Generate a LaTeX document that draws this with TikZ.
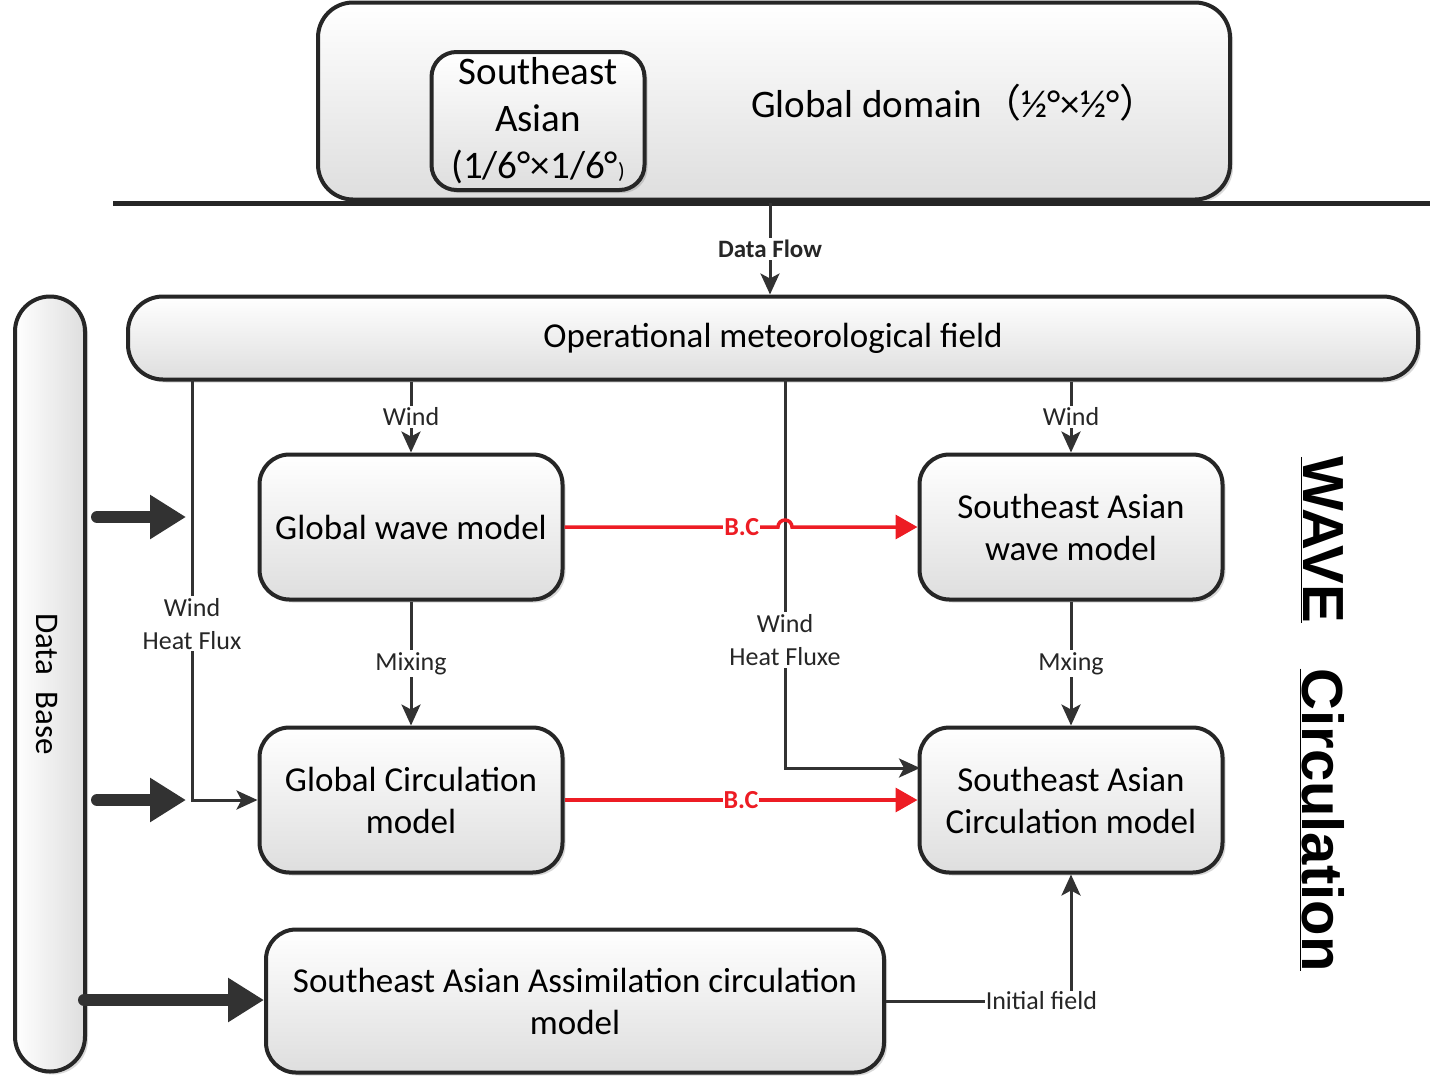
\documentclass[tikz,border=0pt]{standalone}
\usepackage{fontspec}
\setmainfont{Carlito}
\newfontfamily\cjk{Noto Sans CJK SC}
\newfontfamily\headfont{Liberation Sans}
\usepackage{tikz}
\usetikzlibrary{arrows.meta,shadows}
\definecolor{boxline}{RGB}{38,38,38}
\definecolor{boxgray}{RGB}{222,222,222}
\definecolor{flowred}{RGB}{237,28,36}
\definecolor{linegray}{RGB}{50,50,50}

\tikzset{
  modelbox/.style={draw=boxline, line width=4pt, rounded corners=30pt, top color=white, bottom color=boxgray,
    align=center, inner sep=0pt, font=\fontsize{35}{42}\selectfont,
    drop shadow={shadow xshift=3pt, shadow yshift=-3pt, opacity=0.25, fill=black!60}},
  conn/.style={draw=linegray, line width=3pt, -{Stealth[length=21pt,width=19pt,inset=5pt]}},
  bcflow/.style={draw=flowred, line width=3.5pt, -{Triangle[length=22pt,width=24pt]}},
  fatflow/.style={draw=linegray, line width=12pt, line cap=round, -{Triangle[length=36pt,width=42pt]}},
  lbl/.style={fill=white, inner sep=2pt, align=center, text=black!85, font=\fontsize{26}{33}\selectfont},
  bclbl/.style={fill=white, inner sep=1pt, text=flowred, font=\bfseries\fontsize{26}{30}\selectfont},
  sidelbl/.style={rotate=-90, font=\headfont\bfseries\fontsize{58}{58}\selectfont}
}

\begin{document}
\begin{tikzpicture}[x=1pt, y=-1pt]
    \useasboundingbox (0,0) rectangle (1430,1080);

    \node[modelbox, minimum width=912pt, minimum height=197pt, rounded corners=35pt] (globaldom) at (774,101) {};
    \node[font=\fontsize{39}{47}\selectfont] (domtext) at (955,103) {Global domain{\cjk （}½°×½°{\cjk ）}};
    \node[modelbox, minimum width=213pt, minimum height=138pt, rounded corners=25pt, font=\fontsize{39}{47}\selectfont] (seadom) at (538,121) {Southeast\\Asian\\(1/6°×1/6°{\fontsize{22}{22}\selectfont )}};

    \coordinate (busl) at (113,203);
    \coordinate (busr) at (1430,203);
    \draw[draw=boxline, line width=5pt] (busl) -- (busr);

    \node[modelbox, minimum width=1290pt, minimum height=83pt, rounded corners=35pt] (opfield) at (773,338) {Operational meteorological field};
    \node[modelbox, minimum width=70pt, minimum height=775pt, rounded corners=35pt, left color=white, right color=boxgray] (database) at (50,684) {};
    \node[rotate=-90, font=\fontsize{33}{40}\selectfont] (dbtext) at (47,684) {Data\hspace{0.5em}Base};

    \node[modelbox, minimum width=303pt, minimum height=145pt] (gwave) at (411,527) {Global wave model};
    \node[modelbox, minimum width=303pt, minimum height=145pt] (swave) at (1071,527) {Southeast Asian\\wave model};
    \node[modelbox, minimum width=303pt, minimum height=145pt] (gcirc) at (411,800) {Global Circulation\\model};
    \node[modelbox, minimum width=303pt, minimum height=145pt] (scirc) at (1071,800) {Southeast Asian\\Circulation model};
    \node[modelbox, minimum width=618pt, minimum height=143pt] (assim) at (575,1001) {Southeast Asian Assimilation circulation\\model};

    \node[sidelbl] (wavelbl) at (1322,540) {\underline{WAVE}};
    \node[sidelbl] (circlbl) at (1322,820) {\underline{Circulation}};

    \coordinate (flowtop) at (770,203);
    \draw[conn] (flowtop) -- node[lbl, font=\bfseries\fontsize{25}{30}\selectfont] {Data Flow} (flowtop |- opfield.north);

    \draw[conn] (opfield.south -| gwave.north) -- node[lbl] {Wind} (gwave.north);
    \draw[conn] (opfield.south -| swave.north) -- node[lbl] {Wind} (swave.north);
    \draw[conn] (gwave.south) -- node[lbl] {Mixing} (gcirc.north);
    \draw[conn] (swave.south) -- node[lbl] {Mxing} (scirc.north);

    \coordinate (tapA) at (192,380);
    \coordinate (tapB) at (785,380);
    \coordinate (scircin) at (920,768);
    \draw[conn] (tapA) -- node[lbl, pos=0.58] {Wind\\Heat Flux} (tapA |- gcirc.west) -- (gcirc.west);
    \draw[conn] (tapB) -- node[lbl, pos=0.67] {Wind\\Heat Fluxe} (tapB |- scircin) -- (scircin);

    \coordinate (hop) at (tapB |- gwave.east);
    \draw[bcflow] (gwave.east) -- node[bclbl, pos=0.83] {B.C} ([xshift=-7pt]hop) arc[start angle=180, end angle=0, radius=7pt] -- (swave.west);
    \draw[bcflow] (gcirc.east) -- node[bclbl] {B.C} (scirc.west);

    \draw[conn] (assim.east) -- node[lbl, pos=0.84, inner sep=1pt] {Initial field} (assim.east -| scirc.south) -- (scirc.south);

    \coordinate (fat1s) at (97,517);
    \coordinate (fat1e) at (186,517);
    \coordinate (fat2s) at (97,800);
    \coordinate (fat2e) at (186,800);
    \coordinate (fat3s) at (84,1000);
    \draw[fatflow] (fat1s) -- (fat1e);
    \draw[fatflow] (fat2s) -- (fat2e);
    \draw[fatflow] (fat3s) -- (fat3s -| assim.west);
\end{tikzpicture}
\end{document}
